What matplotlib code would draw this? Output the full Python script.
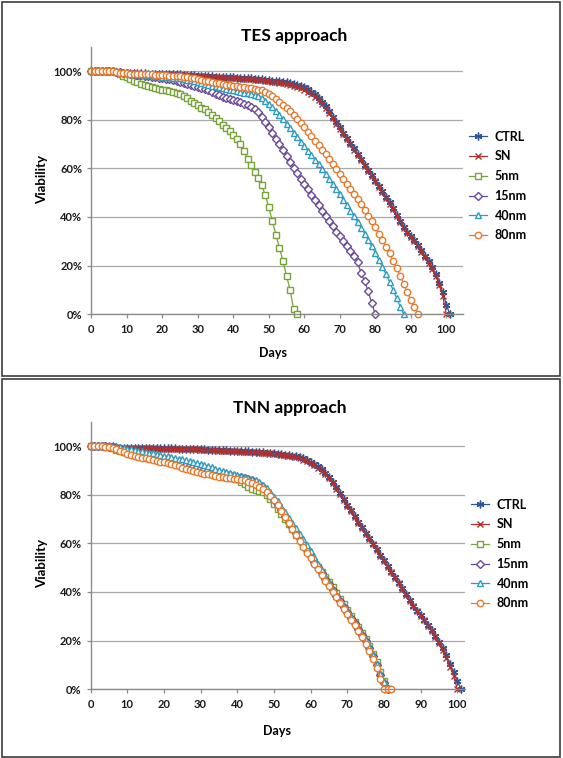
import numpy as np
import matplotlib
matplotlib.use("Agg")
import matplotlib.pyplot as plt
from matplotlib.patches import Rectangle

plt.rcParams['font.family'] = ['Lato', 'DejaVu Sans']

# ---------------- data (viability %, one value per day starting at day 0) ----------------
series_names = ["CTRL", "SN", "5nm", "15nm", "40nm", "80nm"]

tes_ctrl = [100, 100, 100, 100, 100, 100, 100,
            99.6, 99.3, 99.2, 99.2, 99.1, 99.1, 99, 99, 99, 98.9, 98.9, 98.9, 98.8, 98.8, 98.8, 98.7, 98.7, 98.6,
            98.6, 98.5, 98.4, 98.3, 98.2, 98.1,
            98, 98, 97.9, 97.8, 97.7, 97.6, 97.5, 97.5, 97.4, 97.4,
            97.3, 97.2, 97.2, 97.1, 97, 96.9, 96.7, 96.6, 96.5, 96.3,
            96.1, 95.9, 95.7, 95.5, 95.3, 95.1, 94.8, 94.4, 93.9, 93.3,
            92.5, 91.5, 90.4, 89, 87.3, 85.5, 83.5, 81.3, 79, 76.8,
            74.7, 72.5, 70.3, 68.2, 66, 63.8, 61.5, 59.3, 57.1, 55,
            52.8, 50.5, 48.2, 46, 43.5, 41, 38.3, 36, 34, 32.3,
            30.5, 28.5, 26.3, 24, 21.8, 19.3, 16.5, 13, 9, 4,
            0]
tes_sn = [100, 100, 100, 100, 100, 100, 100,
          99.5, 99.2, 99.1, 99.1, 99, 99, 99, 98.9, 98.9, 98.8, 98.8, 98.8, 98.7, 98.7, 98.7, 98.6, 98.6, 98.5,
          98.4, 98.3, 98.2, 98.1, 98, 97.9,
          97.9, 97.8, 97.7, 97.6, 97.5, 97.4, 97.3, 97.3, 97.2, 97.1,
          97, 96.9, 96.8, 96.7, 96.6, 96.5, 96.3, 96.2, 96, 95.8,
          95.6, 95.4, 95.1, 94.9, 94.6, 94.3, 94, 93.5, 92.9, 92.2,
          91.4, 90.5, 89.4, 88.1, 86.6, 84.8, 82.8, 80.6, 78.4, 76.2,
          74.1, 71.9, 69.8, 67.7, 65.5, 63.3, 61.1, 58.9, 56.7, 54.6,
          52.4, 50.1, 47.8, 45.5, 43.1, 40.6, 38, 35.6, 33.6, 31.9,
          30, 28, 25.8, 23.5, 21.2, 18.7, 15.8, 12, 7.5, 0]
tes_5nm = [100, 100, 100, 100, 100, 100, 100,
           99.5, 98.7, 98, 97.5, 96.8, 96, 95.3, 94.8, 94.3, 93.8, 93.4, 93, 92.7, 92.4, 92.1, 91.8, 91.4, 91,
           90.5, 89.7, 88.8, 87.8, 86.9, 86,
           85, 84.2, 83.2, 82, 80.8, 79.5, 78, 76.6, 75.2, 73.8,
           72, 70, 67.3, 64, 61.3, 58.6, 56, 53.2, 49, 44,
           38.2, 32.8, 27.3, 21.8, 15.8, 10, 2, 0]
tes_15nm = [100, 100, 100, 100, 100, 100, 100,
            99.8, 99.5, 99.3, 99, 98.8, 98.6, 98.4, 98.2, 98, 97.8, 97.6, 97.4, 97.2, 97, 96.8, 96.6, 96.3, 96,
            95.6, 95.2, 94.8, 94.4, 94, 93.5,
            93, 92.5, 92, 91.3, 90.7, 90.1, 89.5, 89, 88.4, 87.9,
            87.5, 87.1, 86.6, 86.1, 85.4, 84.5, 83.2, 81.3, 79.2, 77,
            74.6, 72.2, 69.8, 67.4, 65, 62.6, 60.3, 58, 55.8, 53.6,
            51.4, 49.2, 47, 44.8, 42.6, 40.4, 38.2, 36.1, 34, 32,
            30, 28, 26, 23.8, 21.3, 17, 13.5, 9.5, 4.5, 0]
tes_40nm = [100, 100, 100, 100, 100, 100, 100,
            99.7, 99.5, 99.3, 99.1, 98.9, 98.8, 98.7, 98.6, 98.5, 98.4, 98.3, 98.1, 97.9, 97.7, 97.5, 97.4, 97.3, 97.1,
            97, 96.8, 96.5, 96.2, 95.8, 95.4,
            95, 94.6, 94.3, 94, 93.7, 93.4, 93.1, 92.8, 92.4, 92.1,
            91.8, 91.4, 91.1, 90.8, 90.5, 90.1, 89.6, 88.9, 87.8, 86.6,
            85.2, 83.7, 82, 80.1, 78.3, 76.5, 74.7, 72.8, 71, 69.1,
            67.3, 65.4, 63.6, 61.7, 59.8, 57.8, 55.7, 53.6, 51.5, 49.3,
            47.1, 44.9, 42.6, 40.3, 38, 35.6, 33.1, 30.5, 27.9, 25.2,
            22.4, 19.5, 16.5, 13.3, 10, 6.6, 3.2, 0]
tes_80nm = [100, 100, 100, 100, 100, 100, 100,
            99.6, 99.3, 99.1, 99, 98.9, 98.9, 98.8, 98.8, 98.7, 98.7, 98.6, 98.5, 98.4, 98.3, 98.2, 98.1, 98, 97.9,
            97.8, 97.6, 97.4, 97.2, 97, 96.7,
            96.4, 96.1, 95.8, 95.5, 95.2, 94.9, 94.6, 94.3, 94.1, 93.9,
            93.7, 93.5, 93.3, 93.1, 92.9, 92.7, 92.4, 92, 91.4, 90.6,
            89.7, 88.6, 87.4, 86.2, 84.8, 83.4, 81.9, 80.3, 78.6, 76.9,
            75.1, 73.3, 71.4, 69.5, 67.6, 65.7, 63.8, 61.8, 59.7, 57.7,
            55.7, 53.7, 51.7, 49.6, 47.5, 45.3, 43, 40.6, 38.2, 35.7,
            33.1, 30.5, 27.8, 25, 22, 19, 15.8, 12.5, 9.2, 5.8,
            2.8, 0]

tnn_ctrl = [100, 100, 100, 100, 100, 100, 100,
            99.6, 99.3, 99.2, 99.2, 99.2, 99.2, 99.1, 99.1, 99.1, 99.1, 99.1, 99, 99, 99, 99, 99, 99, 98.9,
            98.9, 98.9, 98.9, 98.8, 98.8, 98.8,
            98.6, 98.5, 98.4, 98.4, 98.3, 98.2, 98.2, 98.1, 98.1, 98,
            97.9, 97.8, 97.8, 97.7, 97.6, 97.5, 97.4, 97.3, 97.2, 97.1,
            96.9, 96.7, 96.5, 96.3, 96, 95.7, 95.3, 94.9, 94.3, 93.6,
            92.7, 91.7, 90.5, 89.1, 87.4, 85.4, 83.1, 80.7, 78.3, 75.9,
            73.5, 71.2, 68.9, 66.6, 64.3, 62.1, 59.9, 57.6, 55.3, 53,
            50.7, 48.4, 46.1, 43.8, 41.5, 39.1, 36.7, 34.4, 32.3, 30.4,
            28.5, 26.5, 24.4, 22.1, 19.6, 16.9, 13.9, 10.6, 7.1, 3.6,
            0]
tnn_sn = [100, 100, 100, 100, 100, 100, 100,
          99.5, 99.2, 99.1, 99.1, 99.1, 99.1, 99, 99, 99, 99, 99, 98.9, 98.9, 98.9, 98.9, 98.9, 98.8, 98.8,
          98.8, 98.7, 98.7, 98.6, 98.6, 98.5,
          98.4, 98.3, 98.2, 98.2, 98.1, 98, 98, 97.9, 97.9, 97.8,
          97.7, 97.6, 97.6, 97.5, 97.4, 97.3, 97.2, 97.1, 97, 96.9,
          96.7, 96.5, 96.3, 96, 95.7, 95.3, 94.9, 94.4, 93.8, 93.1,
          92.2, 91.1, 89.9, 88.5, 86.8, 84.8, 82.5, 80.2, 77.8, 75.4,
          73.1, 70.8, 68.5, 66.3, 64, 61.8, 59.6, 57.3, 55, 52.7,
          50.4, 48.1, 45.8, 43.5, 41.2, 38.8, 36.4, 34.1, 32.1, 30.2,
          28.3, 26.2, 24, 21.6, 19, 16.1, 12.9, 9.3, 5.4, 0]
tnn_5nm = [100, 100, 100, 100, 99.8, 99.4, 99, 98.5, 98, 97.5,
           97, 96.6, 96.2, 95.8, 95.5, 95.2, 94.9, 94.6, 94.3, 94,
           93.7, 93.4, 93, 92.6, 92.1, 91.6, 91.2, 90.8, 90.4, 90,
           89.6, 89.2, 88.8, 88.5, 88.2, 87.9, 87.6, 87.3, 87, 86.7,
           86.3, 85.4, 84.2, 83, 82.4, 82, 81.7, 81, 79.8, 78.2,
           76, 74, 72, 70, 67.9, 65.8, 63.6, 61.3, 59, 56.8,
           54.6, 52.4, 50.3, 48.3, 46.3, 44.2, 42, 39.7, 37.3, 34.9,
           32.5, 30.1, 27.8, 25.5, 23.1, 20.6, 17.8, 14.7, 11.2, 7.2,
           3.5, 0]
tnn_15nm = [100, 100, 100, 100, 100, 99.7, 99.4, 99, 98.6, 98.2,
            97.8, 97.5, 97.2, 96.9, 96.6, 96.3, 96, 95.7, 95.4, 95.1,
            94.8, 94.4, 94, 93.6, 93.2, 92.8, 92.4, 92, 91.6, 91.2,
            90.8, 90.4, 90, 89.6, 89.2, 88.9, 88.6, 88.3, 88, 87.7,
            87.4, 87.1, 86.8, 86.4, 85.9, 85.2, 84.2, 83, 81.5, 79.8,
            77.8, 75.7, 73.5, 71.2, 68.9, 66.6, 64.3, 62, 59.7, 57.3,
            54.9, 52.5, 50.1, 47.7, 45.4, 43.1, 40.8, 38.5, 36.2, 33.9,
            31.7, 29.5, 27.2, 24.9, 22.5, 19.9, 17, 13.7, 10, 6,
            2.5, 0]
tnn_40nm = [100, 100, 100, 100, 100, 100, 99.8, 99.6, 99.4, 99.1,
            98.8, 98.6, 98.3, 98, 97.8, 97.5, 97.2, 97, 96.7, 96.4,
            96, 95.7, 95.4, 95.1, 94.8, 94.5, 94.2, 93.8, 93.3, 92.9,
            92.5, 92.1, 91.7, 91.2, 90.7, 90.2, 89.8, 89.4, 89, 88.6,
            88.2, 87.8, 87.4, 87, 86.6, 86, 85.2, 84.1, 82.7, 81,
            79.2, 77.2, 75, 72.8, 70.6, 68.4, 66.2, 64, 61.8, 59.5,
            57, 54.4, 51.7, 49, 46.3, 43.6, 41, 38.5, 36, 33.8,
            31.7, 29.6, 27.4, 25.1, 22.7, 20.1, 17.2, 13.9, 10.2, 6.4,
            3, 0]
tnn_80nm = [100, 100, 100, 100, 99.8, 99.5, 99.2, 98.7, 98.1, 97.4,
            96.9, 96.4, 95.9, 95.5, 95.2, 94.9, 94.6, 94.3, 94, 93.6,
            93.3, 93, 92.6, 92.1, 91.6, 91.1, 90.7, 90.2, 89.8, 89.4,
            89, 88.6, 88.3, 88, 87.7, 87.4, 87.2, 87, 86.8, 86.6,
            86.4, 86.2, 85.9, 85.4, 84.8, 84.1, 83.2, 82.2, 81, 79.5,
            77.8, 75.7, 73.3, 70.9, 68.5, 66, 63.5, 61, 58.6, 56.2,
            53.9, 51.6, 49.3, 47, 44.7, 42.4, 40.1, 37.8, 35.5, 33.2,
            30.9, 28.6, 26.3, 23.9, 21.4, 18.7, 15.7, 12.3, 8.6, 4.4,
            0, 0, 0]

tes_data = [tes_ctrl, tes_sn, tes_5nm, tes_15nm, tes_40nm, tes_80nm]
tnn_data = [tnn_ctrl, tnn_sn, tnn_5nm, tnn_15nm, tnn_40nm, tnn_80nm]
y_ticks = [0, 20, 40, 60, 80, 100]
x_ticks = list(range(0, 101, 10))

# ---------------- styles ----------------
colors = ['#2B579A', '#B2302D', '#76A33A', '#6A4A9C', '#2C9CC0', '#E9792B']
markers = [(6, 2, 0), 'x', 's', 'D', '^', 'o']
msizes = [5.6, 4.6, 4.0, 3.6, 4.6, 4.6]
filled = [False, False, True, True, True, True]

W, H = 563, 758
fig = plt.figure(figsize=(W / 100, H / 100), dpi=100)


def fx(px):
    return px / W


def fy(py):
    return 1 - py / H


def panel(data, title, ax_box, xmax, title_xy, days_xy, via_xy, leg_xy):
    l, t, r, b = ax_box
    ax = fig.add_axes([fx(l), fy(b), fx(r) - fx(l), fy(t) - fy(b)])
    handles = []
    for vals, name, c, m, ms, fl in zip(data, series_names, colors, markers, msizes, filled):
        days = np.arange(len(vals))
        h, = ax.plot(days, vals, color=c, lw=0.9, marker=m, ms=ms, mew=1.0,
                     mfc='white' if fl else c, mec=c, clip_on=False, label=name)
        handles.append(h)
    ax.set_xlim(0, xmax)
    ax.set_ylim(0, 110)
    ax.set_yticks(y_ticks)
    ax.set_yticklabels([f"{v}%" for v in y_ticks])
    ax.set_xticks(x_ticks)
    ax.set_xticklabels([str(v) for v in x_ticks])
    for s in ['top', 'right']:
        ax.spines[s].set_visible(False)
    for s in ['left', 'bottom']:
        ax.spines[s].set_color('#8C8C8C')
        ax.spines[s].set_linewidth(1.0)
    ax.yaxis.grid(True, color='#A8A8A8', lw=0.9)
    ax.set_axisbelow(True)
    ax.tick_params(axis='both', direction='out', length=3, width=0.9, color='#8C8C8C',
                   labelsize=8)
    ax.tick_params(axis='y', pad=3.5)
    ax.tick_params(axis='x', pad=4)
    for lab in ax.get_xticklabels() + ax.get_yticklabels():
        lab.set_fontweight('bold')
        lab.set_color('#1a1a1a')
    fig.text(fx(title_xy[0]), fy(title_xy[1]), title, ha='center', va='center',
             fontsize=12.5, fontweight='bold', color='black')
    fig.text(fx(days_xy[0]), fy(days_xy[1]), "Days", ha='center', va='center',
             fontsize=9, fontweight='bold', color='black')
    fig.text(fx(via_xy[0]), fy(via_xy[1]), "Viability", ha='center', va='center',
             rotation=90, fontsize=9.5, fontweight='bold', color='black')
    ax.legend(handles=handles, loc='center left', bbox_to_anchor=(fx(leg_xy[0]), fy(leg_xy[1])),
              bbox_transform=fig.transFigure, frameon=False, handlelength=1.45,
              handletextpad=0.6, labelspacing=0.62, borderpad=0, borderaxespad=0,
              numpoints=1, prop=dict(size=9, weight='bold'))
    return ax


panel(tes_data, "TES approach", (91.3, 46.7, 463, 314.3), 104.7,
      (294, 36), (273, 353), (42, 180), (469, 186))
panel(tnn_data, "TNN approach", (90.5, 421.7, 465, 689.3), 102.1,
      (290, 408), (277, 731), (42, 564), (471, 554))

# panel borders
for (x0, y0, x1, y1) in [(1.5, 1.5, 560, 376), (1.5, 378.5, 560, 756.5)]:
    fig.add_artist(Rectangle((fx(x0), fy(y1)), fx(x1) - fx(x0), fy(y0) - fy(y1),
                             transform=fig.transFigure, fill=False, ec='#3C3C3C', lw=1.2))

fig.savefig("out.png", dpi=100)
